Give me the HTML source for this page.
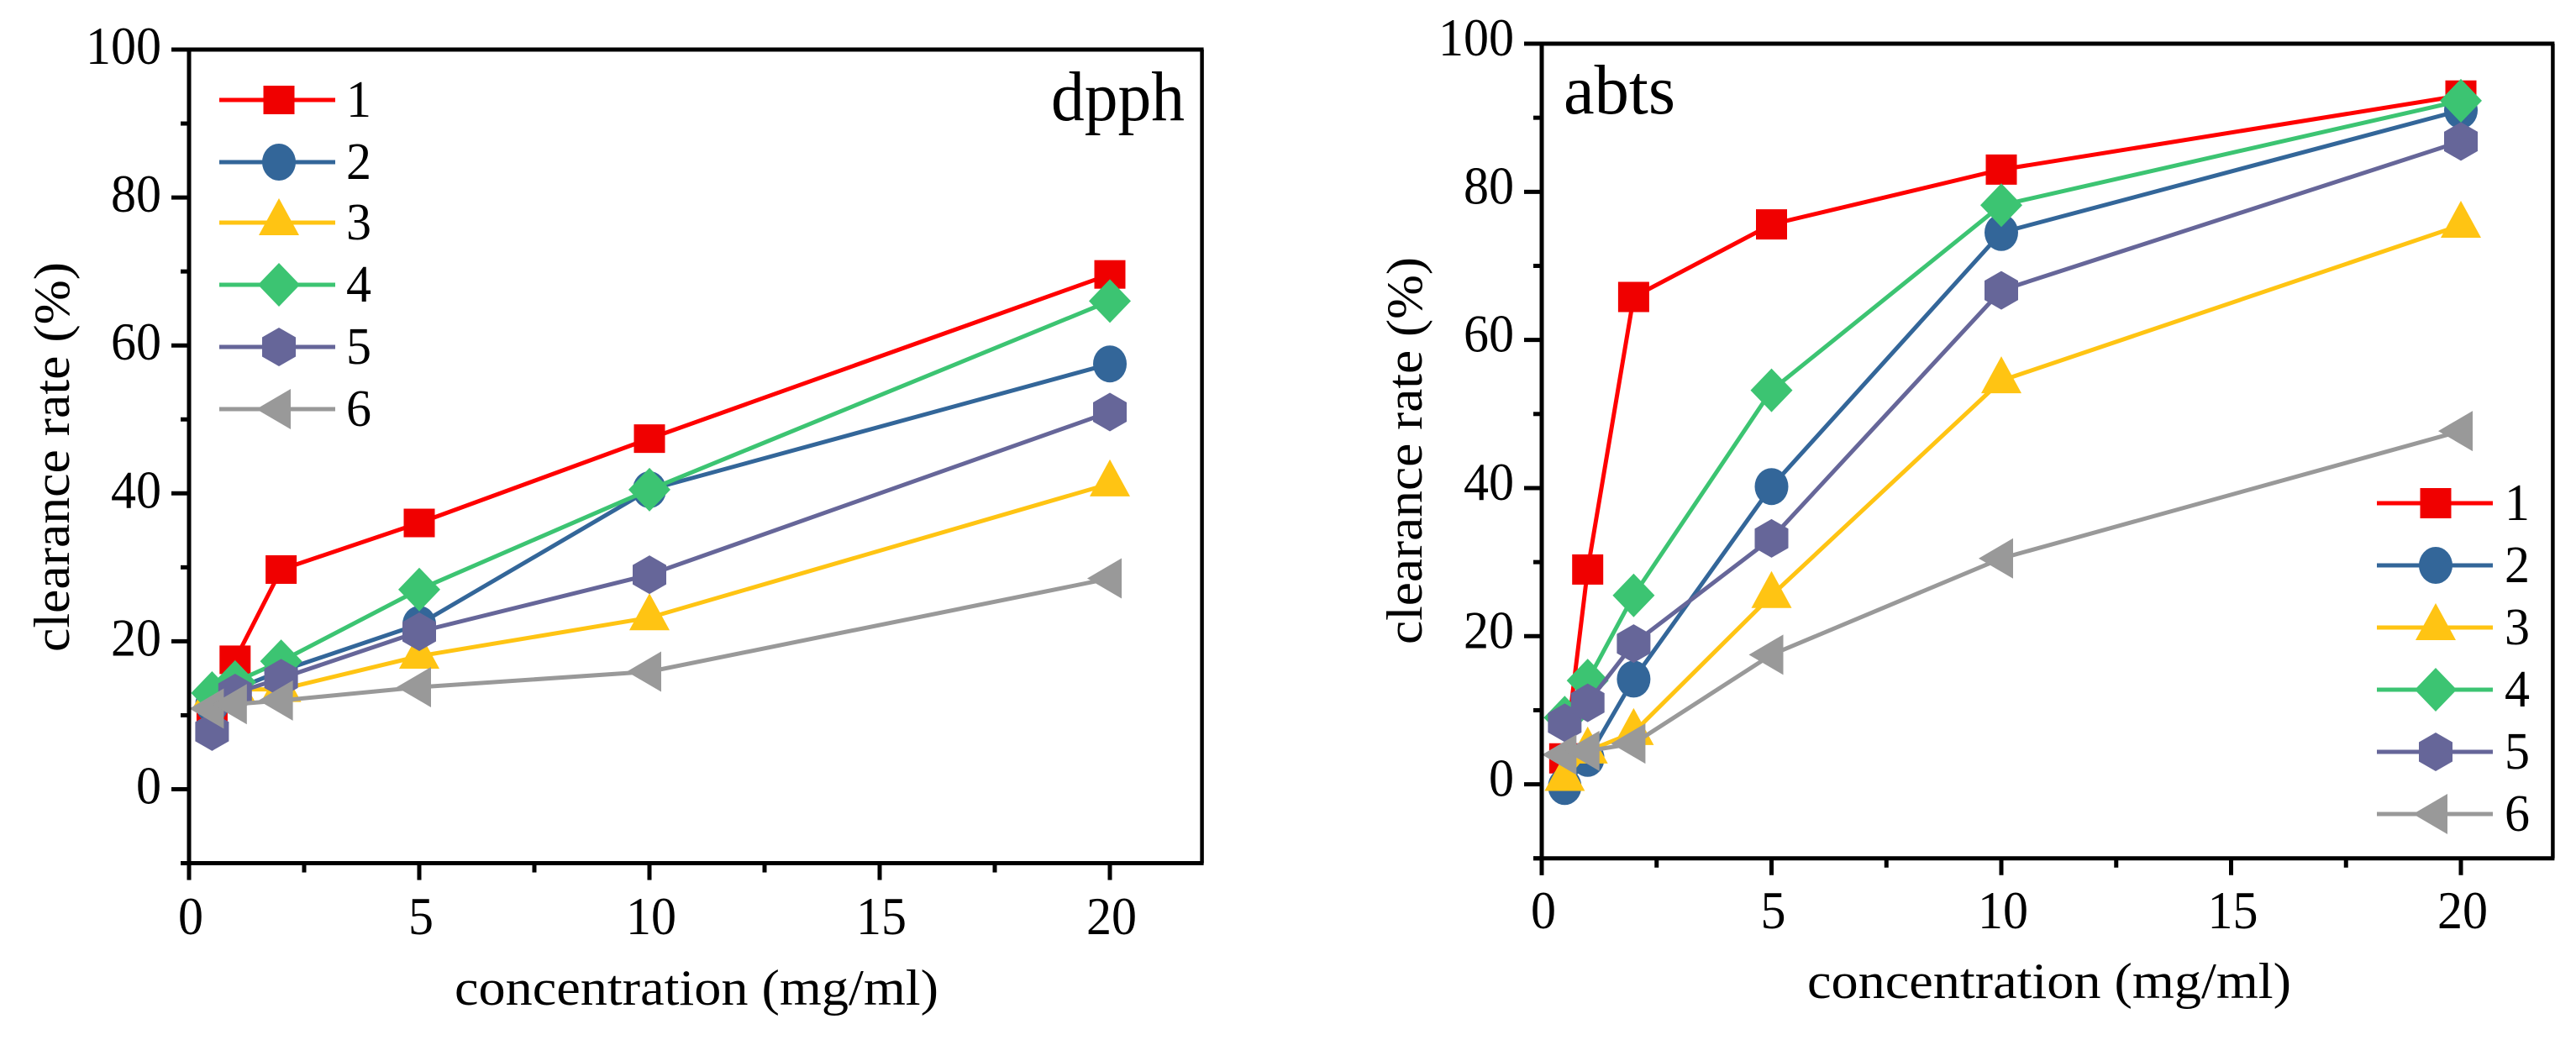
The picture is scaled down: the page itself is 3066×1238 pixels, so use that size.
<!DOCTYPE html>
<html>
<head>
<meta charset="utf-8">
<title>Clearance rate charts</title>
<style>
html,body{margin:0;padding:0;background:#fff;width:3066px;height:1238px;overflow:hidden}
svg{display:block}
text{font-family:"Liberation Serif",serif;fill:#000}
</style>
</head>
<body>
<svg id="figure" xmlns="http://www.w3.org/2000/svg" width="3066" height="1238" viewBox="0 0 3066 1238">
  <rect x="0" y="0" width="3066" height="1238" fill="#fff"/>
  <g id="panel-dpph"></g>
  <g id="panel-abts"></g>
</svg>
<script>
const concentrations = [0.5, 1, 2, 5, 10, 20];
const seriesLabels = ['1', '2', '3', '4', '5', '6'];
const seriesColors = ['#f00000', '#336699', '#ffc413', '#3cc472', '#666699', '#999999'];

const dpph1 = [11, 17.5, 29.7, 36, 47.4, 69.6];
const dpph2 = [11.5, 13.5, 16, 22.3, 40.5, 57.5];
const dpph3 = [12.5, 13.5, 13.5, 18, 23.2, 41.3];
const dpph4 = [13, 14.5, 17.3, 27, 40.5, 66];
const dpph5 = [7.8, 13, 15, 21.3, 29, 51];
const dpph6 = [10.9, 11.5, 12, 13.8, 15.9, 28.5];

const abts1 = [3.5, 29, 65.8, 75.6, 83, 93];
const abts2 = [-0.3, 3.5, 14.2, 40.2, 74.5, 91];
const abts3 = [0.8, 4.5, 7, 25.5, 54.5, 75.5];
const abts4 = [9, 14, 25.5, 53.2, 78.2, 92.3];
const abts5 = [8.3, 11, 19, 33.2, 66.7, 86.8];
const abts6 = [4, 4.5, 5.5, 17.5, 30.5, 47.7];

const xTickLabels = [0, 5, 10, 15, 20];
const xMinorTicks = [2.5, 7.5, 12.5, 17.5];
const yTickLabels = [0, 20, 40, 60, 80, 100];
const yMinorTicks = [-10, 10, 30, 50, 70, 90];

const NS = 'http://www.w3.org/2000/svg';

function make(parent, tag, attrs, text) {
  const el = document.createElementNS(NS, tag);
  for (const k in attrs) el.setAttribute(k, attrs[k]);
  if (text !== undefined) el.textContent = text;
  parent.appendChild(el);
  return el;
}

function markerPoints(kind, cx, cy) {
  if (kind === 2) {
    return [[cx - 24, cy + 15], [cx, cy - 29], [cx + 24, cy + 15]];
  }
  if (kind === 3) {
    return [[cx, cy - 26], [cx + 25, cy], [cx, cy + 26], [cx - 25, cy]];
  }
  if (kind === 4) {
    return [[cx, cy - 23], [cx + 20, cy - 11.5], [cx + 20, cy + 11.5], [cx, cy + 23], [cx - 20, cy + 11.5], [cx - 20, cy - 11.5]];
  }
  if (kind === 5) {
    return [[cx - 27, cy], [cx + 14, cy - 24], [cx + 14, cy + 24]];
  }
  return [];
}

function drawMarker(g, kind, cx, cy, color, sqH) {
  let el;
  if (kind === 0) {
    el = make(g, 'rect', { x: cx - 18.5, y: cy - sqH / 2, width: 37, height: sqH, fill: color });
  } else if (kind === 1) {
    el = make(g, 'ellipse', { cx: cx, cy: cy, rx: 20, ry: 22, fill: color });
  } else {
    const pts = markerPoints(kind, cx, cy).map(p => p[0] + ',' + p[1]).join(' ');
    el = make(g, 'polygon', { points: pts, fill: color });
  }
  
  
  return el;
}

function drawPanel(cfg) {
  const root = document.getElementById(cfg.id);
  const xScale = v => cfg.x0 + v * cfg.xUnit;
  const yScale = v => cfg.y0 - v * cfg.yUnit;

  const yBottom = yScale(-10);
  const yTop = yScale(100);
  const xRight = xScale(22);

  const lineGroup = make(root, 'g', { fill: 'none' });
  
  

  cfg.series.forEach((vals, s) => {
    const pts = vals.map((v, i) => xScale(concentrations[i]) + ',' + yScale(v)).join(' ');
    const color = s === 0 ? '#ff0000' : seriesColors[s];
    const line = make(lineGroup, 'polyline', { points: pts, fill: 'none', stroke: color, 'stroke-width': 5 });
    
    
    vals.forEach((v, i) => {
      drawMarker(lineGroup, s, xScale(concentrations[i]), yScale(v), seriesColors[s], cfg.squareH);
    });
  });

  const axes = make(root, 'g', { stroke: '#000', fill: 'none' });
  
  

  const leftAxis = make(axes, 'line', { x1: cfg.x0, y1: yTop, x2: cfg.x0, y2: yBottom + 20, 'stroke-width': 5 });
  
  
  const rightAxis = make(axes, 'line', { x1: xRight, y1: yTop, x2: xRight, y2: yBottom, 'stroke-width': 4.5 });
  
  
  const topAxis = make(axes, 'line', { x1: cfg.x0 - 21, y1: yTop, x2: xRight + 2, y2: yTop, 'stroke-width': 5 });
  
  
  const bottomAxis = make(axes, 'line', { x1: cfg.x0 - 10, y1: yBottom, x2: xRight + 2, y2: yBottom, 'stroke-width': 5 });
  
  

  yTickLabels.forEach(v => {
    const y = yScale(v);
    if (v !== 100) {
      const t = make(axes, 'line', { x1: cfg.x0 - 21, y1: y, x2: cfg.x0, y2: y, 'stroke-width': 5 });
      
      
    }
    const str = String(v);
    const label = make(root, 'text', { x: cfg.yLabelRight, y: y + cfg.yLabelDy, 'font-size': 64, 'text-anchor': 'end', textLength: str.length * 30, lengthAdjust: 'spacingAndGlyphs' }, str);
    
    
  });
  yMinorTicks.forEach(v => {
    const y = yScale(v);
    const t = make(axes, 'line', { x1: cfg.x0 - 10, y1: y, x2: cfg.x0, y2: y, 'stroke-width': 5 });
    
    
  });
  xTickLabels.forEach(v => {
    const x = xScale(v);
    const t = make(axes, 'line', { x1: x, y1: yBottom, x2: x, y2: yBottom + 20, 'stroke-width': 5 });
    
    
    const str = String(v);
    const label = make(root, 'text', { x: x + 2, y: cfg.xLabelBase, 'font-size': 64, 'text-anchor': 'middle', textLength: str.length * 30, lengthAdjust: 'spacingAndGlyphs' }, str);
    
    
  });
  xMinorTicks.forEach(v => {
    const x = xScale(v);
    const t = make(axes, 'line', { x1: x, y1: yBottom, x2: x, y2: yBottom + 11, 'stroke-width': 5 });
    
    
  });

  const xTitle = make(root, 'text', { x: cfg.xTitleX, y: cfg.xTitleY, 'font-size': 60, textLength: 576, lengthAdjust: 'spacingAndGlyphs' }, 'concentration (mg/ml)');
  
  

  const yTitle = make(root, 'text', {
    transform: 'translate(' + cfg.yTitleX + ',' + cfg.yTitleY + ') rotate(-90)',
    x: 0, y: 0, 'font-size': 60, textLength: cfg.yTitleLen, lengthAdjust: 'spacingAndGlyphs'
  }, 'clearance rate (%)');
  
  

  const name = make(root, 'text', { x: cfg.nameX, y: cfg.nameY, 'font-size': 84, textLength: cfg.nameLen, lengthAdjust: 'spacingAndGlyphs' }, cfg.name);
  
  

  const legend = make(root, 'g', {});
  
  
  seriesLabels.forEach((lab, s) => {
    const y = cfg.legendY[s];
    const entry = make(legend, 'g', {});
    
    
    const color = s === 0 ? '#ff0000' : seriesColors[s];
    make(entry, 'line', { x1: cfg.legendX1, y1: y, x2: cfg.legendX2, y2: y, stroke: color, 'stroke-width': 5 });
    drawMarker(entry, s, cfg.legendMid, y, seriesColors[s], cfg.squareH);
    make(entry, 'text', { x: cfg.legendText, y: y + 20, 'font-size': 62, textLength: 30, lengthAdjust: 'spacingAndGlyphs' }, lab);
  });
}

drawPanel({
  id: 'panel-dpph', name: 'dpph',
  series: [dpph1, dpph2, dpph3, dpph4, dpph5, dpph6],
  x0: 225, xUnit: 54.8, y0: 939.5, yUnit: 8.805,
  squareH: 34,
  yLabelRight: 192, yLabelDy: 17, xLabelBase: 1112,
  xTitleX: 541, xTitleY: 1196,
  yTitleX: 82, yTitleY: 776, yTitleLen: 464,
  nameX: 1251, nameY: 143, nameLen: 159,
  legendX1: 261, legendX2: 399, legendMid: 332, legendText: 412,
  legendY: [119, 193, 265, 339, 413, 487]
});

drawPanel({
  id: 'panel-abts', name: 'abts',
  series: [abts1, abts2, abts3, abts4, abts5, abts6],
  x0: 1835, xUnit: 54.7, y0: 933.6, yUnit: 8.816,
  squareH: 36,
  yLabelRight: 1802, yLabelDy: 14, xLabelBase: 1105,
  xTitleX: 2151, xTitleY: 1188,
  yTitleX: 1692, yTitleY: 767, yTitleLen: 461,
  nameX: 1861, nameY: 135, nameLen: 133,
  legendX1: 2829, legendX2: 2967, legendMid: 2899, legendText: 2981,
  legendY: [599, 673, 747, 821, 895, 969]
});
</script>
</body>
</html>
